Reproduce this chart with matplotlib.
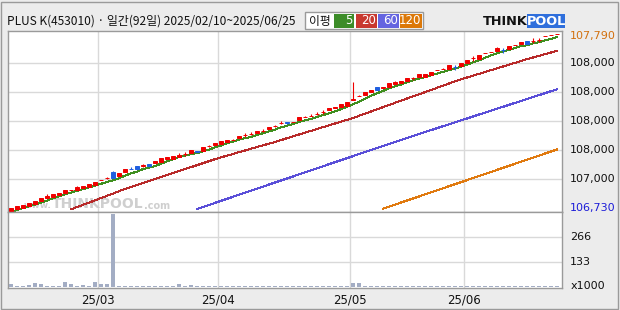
import matplotlib
matplotlib.use("Agg")
import matplotlib.pyplot as plt
import numpy as np
import pandas as pd
from matplotlib.patches import Rectangle

plt.rcParams["font.family"] = ["Noto Sans CJK KR", "DejaVu Sans"]

# daily candles, 2025/02/10 ~ 2025/06/25 (92 trading days)
opens = [106730, 106742, 106748, 106758, 106770, 106790, 106806, 106812, 106824, 106836,
         106854, 106854, 106866, 106874, 106884, 106912, 106924, 106962, 106938, 106962,
         106982, 107000, 106999, 107010, 107018, 107024, 107040, 107042, 107052, 107070,
         107078, 107086, 107088, 107116, 107126, 107130, 107144, 107152, 107164, 107182,
         107188, 107198, 107208, 107220, 107236, 107256, 107260, 107260, 107276, 107290,
         107298, 107310, 107320, 107332, 107348, 107354, 107358, 107396, 107416, 107426,
         107444, 107472, 107468, 107474, 107488, 107496, 107510, 107524, 107532, 107532,
         107544, 107572, 107578, 107582, 107594, 107598, 107618, 107644, 107642, 107674,
         107682, 107686, 107696, 107700, 107724, 107732, 107750, 107748, 107752, 107776,
         107784, 107788]
closes = [106746, 106758, 106766, 106776, 106788, 106806, 106818, 106830, 106836, 106854,
          106854, 106872, 106878, 106890, 106902, 106914, 106926, 106926, 106956, 106980,
          106980, 106980, 107001, 106998, 107030, 107048, 107054, 107060, 107066, 107072,
          107094, 107084, 107114, 107118, 107138, 107150, 107156, 107154, 107180, 107184,
          107190, 107210, 107210, 107234, 107238, 107258, 107258, 107262, 107292, 107292,
          107300, 107312, 107322, 107344, 107350, 107368, 107384, 107398, 107418, 107442,
          107456, 107456, 107470, 107496, 107502, 107510, 107526, 107526, 107548, 107550,
          107562, 107574, 107580, 107604, 107592, 107618, 107636, 107646, 107664, 107676,
          107684, 107704, 107694, 107718, 107726, 107744, 107732, 107750, 107754, 107778,
          107786, 107790]
highs = [106746, 106758, 106766, 106776, 106788, 106806, 106830, 106830, 106836, 106854,
         106854, 106880, 106878, 106890, 106902, 106914, 106932, 106970, 106956, 106980,
         106992, 107000, 107010, 107010, 107030, 107048, 107054, 107060, 107073, 107082,
         107094, 107086, 107114, 107126, 107138, 107150, 107156, 107160, 107180, 107194,
         107200, 107210, 107220, 107234, 107246, 107266, 107260, 107262, 107292, 107300,
         107308, 107320, 107334, 107344, 107350, 107368, 107384, 107500, 107424, 107442,
         107456, 107472, 107470, 107496, 107510, 107510, 107526, 107534, 107548, 107550,
         107562, 107574, 107588, 107604, 107604, 107618, 107636, 107658, 107664, 107676,
         107684, 107712, 107706, 107718, 107726, 107744, 107750, 107766, 107766, 107778,
         107786, 107790]
lows = [106730, 106742, 106748, 106758, 106770, 106790, 106806, 106812, 106824, 106836,
        106854, 106854, 106866, 106874, 106884, 106912, 106920, 106926, 106938, 106962,
        106980, 106980, 106992, 106998, 107018, 107024, 107040, 107042, 107052, 107060,
        107078, 107084, 107088, 107112, 107126, 107130, 107144, 107152, 107164, 107174,
        107182, 107198, 107202, 107220, 107230, 107250, 107250, 107260, 107276, 107290,
        107298, 107306, 107312, 107332, 107348, 107354, 107358, 107392, 107416, 107426,
        107444, 107456, 107468, 107474, 107488, 107496, 107510, 107514, 107532, 107532,
        107544, 107572, 107578, 107582, 107576, 107598, 107618, 107628, 107642, 107674,
        107682, 107686, 107678, 107700, 107724, 107732, 107732, 107736, 107742, 107776,
        107784, 107788]
# closes of the 4 days before the window (for the 5-day average)
pre_closes = [106700, 106712, 106722, 106734]

# volume, x1000
volumes = [17, 5, 5, 12, 23, 18, 5, 5, 5, 28,
           18, 5, 11, 5, 28, 18, 18, 390, 5, 5,
           5, 5, 5, 5, 5, 5, 5, 5, 18, 5,
           12, 5, 5, 5, 5, 5, 5, 5, 5, 5,
           5, 5, 5, 5, 5, 5, 5, 5, 9, 9,
           5, 5, 5, 5, 5, 5, 9, 23, 23, 5,
           5, 5, 5, 5, 5, 5, 5, 5, 5, 5,
           5, 5, 5, 5, 5, 5, 5, 5, 5, 5,
           5, 5, 5, 5, 5, 9, 5, 5, 5, 5,
           5, 5]

# longer moving averages (visible part only)
ma20_start = 10
ma20 = [106738, 106752, 106765, 106778, 106792, 106806, 106819, 106832, 106847, 106860,
        106872, 106885, 106896, 106908, 106920, 106932, 106944, 106956, 106968, 106980,
        106991, 107003, 107015, 107027, 107039, 107050, 107060, 107070, 107081, 107091,
        107102, 107112, 107122, 107132, 107142, 107153, 107165, 107176, 107187, 107198,
        107209, 107220, 107231, 107242, 107253, 107264, 107275, 107286, 107299, 107312,
        107325, 107338, 107351, 107364, 107377, 107390, 107403, 107416, 107428, 107441,
        107454, 107467, 107480, 107493, 107506, 107518, 107529, 107540, 107551, 107562,
        107573, 107584, 107595, 107606, 107617, 107628, 107639, 107649, 107659, 107669,
        107679, 107689]
ma60_start = 31
ma60 = [106740, 106752, 106764, 106777, 106789, 106801, 106813, 106826, 106838, 106850,
        106862, 106874, 106887, 106899, 106911, 106923, 106935, 106948, 106960, 106972,
        106984, 106996, 107009, 107021, 107033, 107045, 107057, 107070, 107082, 107094,
        107106, 107118, 107130, 107142, 107154, 107166, 107178, 107190, 107202, 107213,
        107225, 107237, 107248, 107260, 107272, 107283, 107295, 107307, 107318, 107330,
        107342, 107353, 107365, 107377, 107388, 107400, 107412, 107423, 107435, 107447,
        107458]
ma120_start = 62
ma120 = [106742, 106754, 106766, 106779, 106791, 106803, 106815, 106828, 106840, 106852,
         106864, 106877, 106889, 106901, 106913, 106926, 106938, 106950, 106962, 106975,
         106987, 106999, 107011, 107024, 107036, 107048, 107060, 107073, 107085, 107097]

price_ticks = [106918, 107092, 107266, 107440, 107614]
price_tick_labels = ["107,000", "108,000", "108,000", "108,000", "108,000"]
vol_ticks = [133, 266]
month_idx = [15, 35, 57, 76]
month_labels = ["25/03", "25/04", "25/05", "25/06"]

RED = "#f00000"
BLUE = "#1f5fe0"
GRID = "#d9d9d9"
FRAME = "#9a9a9a"
WM = "#cfcfcf"

n = len(closes)
x = np.arange(n)

fig = plt.figure(figsize=(6.2, 3.1), dpi=100, facecolor="#ececec")
W, H = 620, 310


def px_axes(x0, y0, x1, y1):
    return fig.add_axes([x0 / W, 1 - y1 / H, (x1 - x0) / W, (y1 - y0) / H])


ax = px_axes(8, 31, 562, 212)
axv = px_axes(8, 212, 562, 288)

xlim = (-0.5, -0.5 + 554 / 6)
for a in (ax, axv):
    a.set_facecolor("white")
    a.set_xlim(*xlim)
    a.set_xticks([])
    a.set_yticks([])
    for s in a.spines.values():
        s.set_color(FRAME)
        s.set_linewidth(1)
    for m in month_idx:
        a.axvline(m - 0.5, color=GRID, lw=1, zorder=0)

ax.set_ylim(106722, 107808)
axv.set_ylim(-3, 401)
for t in price_ticks:
    ax.axhline(t, color=GRID, lw=1, zorder=0)
for t in vol_ticks:
    axv.axhline(t, color=GRID, lw=1, zorder=0)

# watermark, inside the price panel and under the candles
wm = dict(color=WM, fontweight="bold", ha="left", va="center", family="DejaVu Sans",
          transform=fig.transFigure, zorder=1)
ax.text(24 / W, 1 - 206 / H, "www.", fontsize=6.5, **wm)
ax.text(52 / W, 1 - 204 / H, "THINKPOOL", fontsize=10, **wm)
ax.text(144 / W, 1 - 206 / H, ".com", fontsize=7, **wm)

# moving averages
ma5 = pd.Series(pre_closes + closes).rolling(5).mean().to_numpy()[len(pre_closes):]
ax.plot(x, ma5, color="#3f8f1f", lw=0.72, zorder=2, antialiased=False)
ax.plot(np.arange(ma20_start, ma20_start + len(ma20)), ma20, color="#b82a2a",
        lw=0.72, zorder=2, antialiased=False)
ax.plot(np.arange(ma60_start, ma60_start + len(ma60)), ma60, color="#5a4fd8",
        lw=0.72, zorder=2, antialiased=False)
ax.plot(np.arange(ma120_start, ma120_start + len(ma120)), ma120, color="#e07a10",
        lw=0.72, zorder=2, antialiased=False)

# candles
o = np.array(opens)
c = np.array(closes)
colors = [RED if ci >= oi else BLUE for oi, ci in zip(o, c)]
ax.vlines(x, lows, highs, colors=colors, lw=0.8, zorder=3)
ax.bar(x, np.abs(c - o), bottom=np.minimum(o, c), width=0.72, color=colors,
       edgecolor=colors, linewidth=0.7, zorder=4)

# volume
axv.bar(x, volumes, width=0.72, color="#a3adc4", zorder=3)

# right-hand labels
for t, lab in zip(price_ticks, price_tick_labels):
    ax.text(1.015, ax.transLimits.transform((0, t))[1], lab, transform=ax.transAxes,
            ha="left", va="center", fontsize=8, color="#111111", family="DejaVu Sans")
ax.text(1.015, 0.97, "107,790", transform=ax.transAxes, ha="left", va="center",
        fontsize=8, color="#d2700e", family="DejaVu Sans")
ax.text(1.015, 0.022, "106,730", transform=ax.transAxes, ha="left", va="center",
        fontsize=8, color="#1c1cd8", family="DejaVu Sans")
for t in vol_ticks:
    axv.text(1.015, axv.transLimits.transform((0, t))[1], str(t), transform=axv.transAxes,
             ha="left", va="center", fontsize=8, color="#111111", family="DejaVu Sans")
axv.text(1.015, 0.02, "x1000", transform=axv.transAxes, ha="left", va="center",
         fontsize=8, color="#111111", family="DejaVu Sans")

# month labels
for m, lab in zip(month_idx, month_labels):
    axv.text(m - 0.5, -0.16, lab, transform=axv.get_xaxis_transform(), ha="center",
             va="center", fontsize=8.5, color="#111111", family="DejaVu Sans")

# header
fig.text(7 / W, 1 - 21.5 / H, "PLUS K(453010) · 일간(92일) 2025/02/10~2025/06/25",
         ha="left", va="center", fontsize=8.6, color="#111111")

legend_box = Rectangle((305 / W, 1 - 29 / H), 118 / W, 17 / H, transform=fig.transFigure,
                       facecolor="white", edgecolor=FRAME, lw=1)
fig.patches.append(legend_box)
fig.text(309 / W, 1 - 21 / H, "이평", ha="left", va="center", fontsize=8.5, color="#111111")
legend_items = [("5", "#3c8c28", 334, 354), ("20", "#c8392f", 356, 377),
                ("60", "#6464e0", 378, 399), ("120", "#dc7808", 400, 422)]
for lab, col, x0, x1 in legend_items:
    fig.patches.append(Rectangle((x0 / W, 1 - 28 / H), (x1 - x0) / W, 14 / H,
                                 transform=fig.transFigure, facecolor=col, edgecolor="none"))
    fig.text((x1 - 1) / W, 1 - 21 / H, lab, ha="right", va="center", fontsize=8.5,
             color="white", family="DejaVu Sans")

# logo
fig.text(483 / W, 1 - 21.5 / H, "THINK", ha="left", va="center", fontsize=9.3,
         fontweight="bold", color="#111111", family="DejaVu Sans")
fig.patches.append(Rectangle((527 / W, 1 - 28 / H), 38 / W, 14 / H,
                             transform=fig.transFigure, facecolor="#2f6fdc", edgecolor="none"))
fig.text(546 / W, 1 - 21.5 / H, "POOL", ha="center", va="center", fontsize=9.3,
         fontweight="bold", color="white", family="DejaVu Sans")

fig.patches.append(Rectangle((1 / W, 1 / H), 617 / W, 307 / H, transform=fig.transFigure,
                             facecolor="none", edgecolor=FRAME, lw=1))

fig.savefig("out.png", dpi=100, facecolor=fig.get_facecolor())
